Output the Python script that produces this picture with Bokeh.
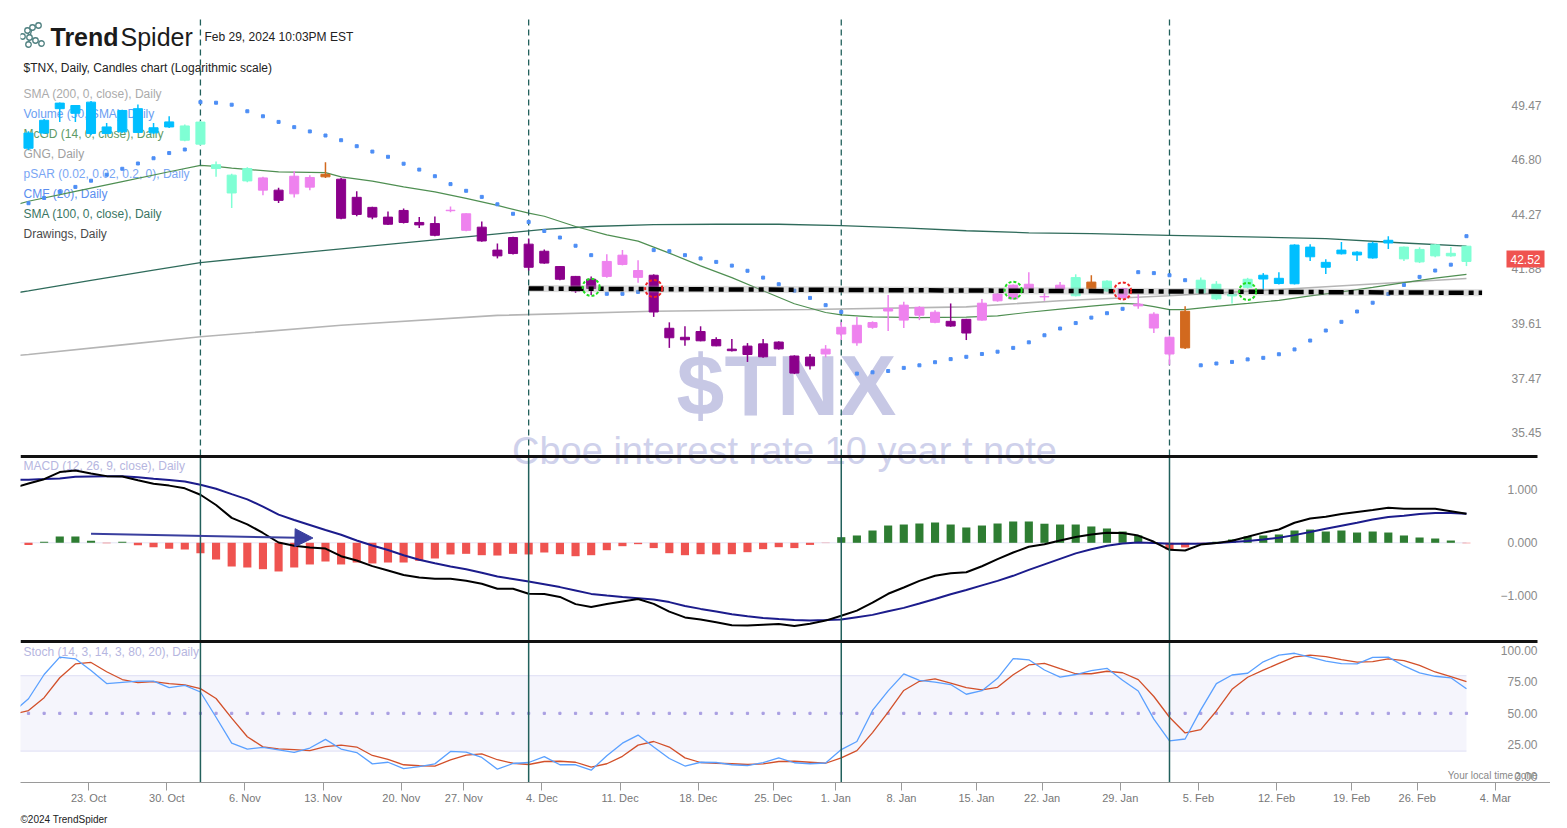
import math
import numpy as np
from bokeh.plotting import figure
from bokeh.models import Range1d, LinearScale, FixedTicker, Label, Arrow, NormalHead
from bokeh.embed import file_html
from bokeh.resources import INLINE
from bokeh.core.properties import value

FONT = "Liberation Sans"

# ---------------------------------------------------------------- data
dates = [
    "2023-10-16", "2023-10-17", "2023-10-18", "2023-10-19", "2023-10-20", "2023-10-23", "2023-10-24",
    "2023-10-25", "2023-10-26", "2023-10-27", "2023-10-30", "2023-10-31",
    "2023-11-01", "2023-11-02", "2023-11-03", "2023-11-06", "2023-11-07", "2023-11-08", "2023-11-09",
    "2023-11-10", "2023-11-13", "2023-11-14", "2023-11-15", "2023-11-16", "2023-11-17", "2023-11-20",
    "2023-11-21", "2023-11-22", "2023-11-24", "2023-11-27", "2023-11-28", "2023-11-29", "2023-11-30",
    "2023-12-01", "2023-12-04", "2023-12-05", "2023-12-06", "2023-12-07", "2023-12-08", "2023-12-11",
    "2023-12-12", "2023-12-13", "2023-12-14", "2023-12-15", "2023-12-18", "2023-12-19", "2023-12-20",
    "2023-12-21", "2023-12-22", "2023-12-26", "2023-12-27", "2023-12-28", "2023-12-29",
    "2024-01-02", "2024-01-03", "2024-01-04", "2024-01-05", "2024-01-08", "2024-01-09", "2024-01-10",
    "2024-01-11", "2024-01-12", "2024-01-16", "2024-01-17", "2024-01-18", "2024-01-19", "2024-01-22",
    "2024-01-23", "2024-01-24", "2024-01-25", "2024-01-26", "2024-01-29", "2024-01-30", "2024-01-31",
    "2024-02-01", "2024-02-02", "2024-02-05", "2024-02-06", "2024-02-07", "2024-02-08", "2024-02-09",
    "2024-02-12", "2024-02-13", "2024-02-14", "2024-02-15", "2024-02-16", "2024-02-20", "2024-02-21",
    "2024-02-22", "2024-02-23", "2024-02-26", "2024-02-27", "2024-02-28", "2024-02-29",
]

# candles: one per day from dates[1:]
opens = [47.36, 48.10, 49.31, 49.47, 49.64, 48.40, 48.16, 49.31, 48.36, 48.40,
         47.75, 48.64, 46.57, 46.08, 45.81, 45.95, 45.38, 45.21, 45.52, 46.00,
         45.89, 44.27, 44.59, 44.15, 44.45, 43.91, 43.86, 44.44, 44.30, 43.70,
         42.69, 42.54, 42.95, 42.13, 41.98, 41.56, 41.05, 41.56, 42.07, 41.81,
         41.61, 39.42, 39.06, 38.92, 38.97, 38.59, 38.38, 38.29, 38.87, 38.32,
         37.94, 38.40, 39.19, 38.84, 39.46, 40.12, 40.36, 39.95, 39.66, 39.70,
         39.78, 39.75, 40.54, 40.62, 41.04, 40.72, 41.01, 40.75, 41.32, 40.95,
         41.05, 40.40, 39.99, 39.06, 38.64, 40.87, 41.23, 40.74, 41.10, 41.45,
         41.26, 41.25, 42.82, 42.16, 42.53, 42.60, 42.35, 43.00, 42.82, 42.18,
         42.44, 42.55, 42.86]
highs = [48.19, 48.80, 49.62, 49.50, 49.70, 48.60, 49.25, 49.52, 48.60, 48.93,
         48.52, 48.70, 46.73, 46.15, 46.45, 46.00, 45.49, 46.28, 46.08, 46.69,
         45.95, 45.33, 44.62, 44.40, 44.54, 44.15, 44.18, 44.63, 44.32, 43.95,
         42.98, 43.28, 43.20, 42.72, 42.00, 41.58, 41.56, 42.51, 42.69, 42.25,
         41.65, 39.66, 39.50, 39.50, 39.06, 38.99, 38.83, 38.99, 38.90, 38.35,
         38.40, 38.75, 39.67, 39.88, 39.70, 40.78, 40.50, 40.32, 40.15, 40.43,
         39.80, 40.61, 40.85, 41.22, 41.74, 40.85, 41.32, 41.65, 41.61, 41.40,
         41.08, 40.81, 40.07, 39.10, 40.32, 41.51, 41.36, 40.98, 41.50, 41.70,
         41.74, 42.95, 42.95, 42.29, 43.04, 42.64, 43.05, 43.30, 42.85, 42.81,
         42.95, 42.83, 42.88]
lows = [47.26, 48.05, 48.65, 48.65, 48.00, 48.05, 48.12, 48.10, 48.05, 48.35,
        47.70, 47.50, 46.00, 44.56, 45.75, 45.15, 44.79, 45.04, 45.38, 45.95,
        44.05, 44.19, 44.05, 43.80, 43.86, 43.66, 43.30, 44.37, 43.52, 43.05,
        42.33, 42.50, 41.81, 42.10, 41.40, 40.87, 40.78, 41.50, 42.03, 41.29,
        39.88, 38.64, 38.72, 38.90, 38.70, 38.50, 38.09, 38.25, 38.57, 37.62,
        37.80, 38.27, 38.95, 38.72, 39.40, 39.31, 39.43, 39.75, 39.62, 39.48,
        38.95, 39.72, 40.50, 40.60, 41.00, 40.54, 40.98, 40.72, 41.00, 40.92,
        40.65, 40.21, 39.23, 37.98, 38.60, 40.85, 40.57, 40.43, 41.05, 41.01,
        41.22, 41.22, 42.22, 41.66, 42.50, 42.22, 42.32, 42.74, 42.22, 42.13,
        42.38, 42.40, 42.00]
closes = [48.10, 48.73, 49.59, 49.08, 48.08, 48.08, 49.22, 48.13, 48.11, 48.65,
          48.45, 47.56, 46.39, 45.25, 46.39, 45.38, 44.91, 46.03, 45.97, 46.12,
          44.10, 45.05, 44.15, 43.83, 43.91, 43.80, 43.34, 44.46, 43.56, 43.09,
          42.44, 43.24, 41.95, 42.64, 41.44, 40.95, 41.44, 42.20, 42.47, 41.52,
          40.08, 39.04, 38.96, 39.29, 38.72, 38.53, 38.71, 38.80, 38.60, 37.66,
          38.28, 38.59, 39.46, 39.54, 39.65, 40.22, 39.75, 40.27, 40.07, 39.51,
          39.23, 40.44, 40.82, 41.19, 41.23, 40.70, 41.19, 41.51, 41.04, 41.36,
          40.68, 40.33, 39.43, 38.40, 40.11, 41.40, 40.62, 40.82, 41.44, 41.61,
          41.48, 42.91, 42.40, 41.95, 42.69, 42.48, 42.99, 43.12, 42.31, 42.72,
          42.92, 42.44, 42.20]
# GNG state per candle: B strong go, A weak go, P weak no-go, V strong no-go, O neutral
gng_state = ("BBBBBBBBBB" "AAAAA" "P" "V" "PP" "O" "VVVVVVV" "PP" "VVVVVVVV" "PPP"
             "VVVVVVVVVVV" "PPPPPPPP" "VV" "PPPPPP" "A" "O" "A" "PPPP" "O" "AAAA"
             "BBBBBBBBB" "AAAAA")
last_price = 42.52

psar = [44.78, 45.02, 45.29, 45.53, 45.82, 46.10, 46.38, 46.63, 46.88, 47.13,
        47.30, 49.64, 49.61, 49.51, 49.18, 48.93, 48.65, 48.39, 48.18, 47.98,
        47.75, 47.46, 47.20, 46.95, 46.62, 46.34, 46.03, 45.66, 45.35, 45.07,
        44.73, 44.30, 43.93, 43.53, 43.24, 42.88, 42.47, 40.83, 40.83, 40.91,
        42.69, 42.64, 42.47, 42.33, 42.18, 42.02, 41.80, 41.51, 41.23, 40.96,
        40.66, 40.36, 40.08, 37.64, 37.69, 37.74, 37.86, 37.96, 38.08, 38.20,
        38.29, 38.40, 38.49, 38.64, 38.86, 39.14, 39.41, 39.63, 39.85, 40.03,
        40.21, 41.74, 41.70, 41.61, 41.40, 37.96, 38.03, 38.09, 38.19, 38.25,
        38.39, 38.58, 38.93, 39.33, 39.68, 40.10, 40.46, 40.82, 41.20, 41.54,
        41.81, 42.06, 43.30]

sma200_dates = ["2023-10-16", "2023-10-17", "2023-10-25", "2023-11-01", "2023-11-14", "2023-11-29",
                "2023-12-13", "2023-12-28", "2024-01-12", "2024-01-23", "2024-02-01", "2024-02-12",
                "2024-02-21", "2024-02-29"]
sma200 = [38.33, 38.38, 38.76, 39.08, 39.54, 39.94, 40.11, 40.18, 40.29, 40.54, 40.75, 41.01, 41.24, 41.47]

sma100_dates = ["2023-10-16", "2023-10-17", "2023-10-23", "2023-10-27", "2023-11-01", "2023-11-07",
                "2023-11-14", "2023-11-21", "2023-11-29", "2023-12-04", "2023-12-07", "2023-12-13",
                "2023-12-19", "2023-12-26", "2024-01-02", "2024-01-08", "2024-01-12", "2024-01-19",
                "2024-01-25", "2024-02-01", "2024-02-08", "2024-02-15", "2024-02-23", "2024-02-29"]
sma100 = [40.85, 40.95, 41.39, 41.83, 42.15, 42.42, 42.74, 43.07, 43.40, 43.60, 43.73, 43.81,
          43.83, 43.83, 43.77, 43.67, 43.54, 43.45, 43.41, 43.34, 43.27, 43.19, 43.00, 42.86]

mcgd_dates = ["2023-10-16", "2023-10-17", "2023-10-20", "2023-10-25", "2023-10-30", "2023-11-01",
              "2023-11-02", "2023-11-03", "2023-11-08", "2023-11-13", "2023-11-14", "2023-11-16",
              "2023-11-20", "2023-11-22", "2023-11-27", "2023-11-29", "2023-12-01", "2023-12-04",
              "2023-12-06", "2023-12-08", "2023-12-12", "2023-12-13", "2023-12-14", "2023-12-18",
              "2023-12-20", "2023-12-22", "2023-12-27", "2023-12-29", "2024-01-02", "2024-01-04",
              "2024-01-09", "2024-01-12", "2024-01-17", "2024-01-19", "2024-01-23", "2024-01-25",
              "2024-01-29", "2024-01-30", "2024-01-31", "2024-02-01", "2024-02-02", "2024-02-06",
              "2024-02-08", "2024-02-12", "2024-02-14", "2024-02-16", "2024-02-21", "2024-02-23",
              "2024-02-27", "2024-02-29"]
mcgd = [44.68, 44.87, 45.32, 45.78, 46.24, 46.54, 46.49, 46.41, 46.23, 46.20,
        46.00, 45.80, 45.53, 45.30, 45.00, 44.68, 44.33, 44.19, 43.73, 43.36,
        43.08, 42.82, 42.56, 42.01, 41.51, 40.96, 40.42, 40.06, 39.96, 39.88,
        39.85, 39.87, 39.92, 40.07, 40.20, 40.32, 40.43, 40.40, 40.30, 40.18,
        40.18, 40.31, 40.43, 40.56, 40.74, 40.91, 41.10, 41.30, 41.49, 41.65]

# MACD (12, 26, 9): one value per entry of dates
macd = [1.034, 1.119, 1.200, 1.334, 1.364, 1.308, 1.258, 1.251, 1.181, 1.115, 1.079,
        1.028, 0.906, 0.713, 0.470, 0.349, 0.185, 0.006, -0.057, -0.089, -0.109,
        -0.253, -0.334, -0.440, -0.523, -0.606, -0.655, -0.679, -0.679, -0.717, -0.772,
        -0.868, -0.868, -0.962, -0.966, -1.021, -1.157, -1.211, -1.153, -1.106, -1.060,
        -1.153, -1.298, -1.408, -1.449, -1.500, -1.555, -1.560, -1.545, -1.530, -1.570,
        -1.528, -1.468, -1.377, -1.279, -1.130, -0.962, -0.843, -0.719, -0.623, -0.574,
        -0.555, -0.442, -0.309, -0.183, -0.075, -0.028, 0.043, 0.109, 0.157, 0.189,
        0.183, 0.136, 0.019, -0.132, -0.145, -0.034, -0.006, 0.040, 0.113, 0.192,
        0.251, 0.379, 0.458, 0.491, 0.543, 0.583, 0.621, 0.662, 0.642, 0.642,
        0.642, 0.596, 0.547]
signal = [1.185, 1.191, 1.202, 1.215, 1.245, 1.251, 1.257, 1.257, 1.236, 1.208, 1.183,
          1.155, 1.094, 1.021, 0.919, 0.819, 0.683, 0.532, 0.430, 0.336, 0.242,
          0.153, 0.043, -0.051, -0.136, -0.234, -0.321, -0.387, -0.447, -0.498, -0.566,
          -0.636, -0.683, -0.730, -0.783, -0.836, -0.900, -0.964, -0.994, -1.023, -1.045,
          -1.068, -1.119, -1.191, -1.247, -1.296, -1.347, -1.387, -1.417, -1.440, -1.455,
          -1.466, -1.458, -1.447, -1.404, -1.360, -1.291, -1.228, -1.145, -1.060, -0.970,
          -0.889, -0.804, -0.719, -0.623, -0.511, -0.408, -0.304, -0.200, -0.123, -0.055,
          -0.015, 0.006, -0.006, -0.019, -0.019, -0.019, -0.004, 0.013, 0.034, 0.062,
          0.094, 0.145, 0.202, 0.264, 0.321, 0.377, 0.438, 0.485, 0.511, 0.542,
          0.564, 0.562, 0.547]
# histogram: one per candle (dates[1:])
hist = [-0.04, 0.02, 0.12, 0.12, 0.04, -0.01, 0.02, -0.045, -0.083, -0.11,
        -0.126, -0.196, -0.315, -0.447, -0.466, -0.498, -0.541, -0.466, -0.409, -0.353,
        -0.409, -0.372, -0.39, -0.372, -0.372, -0.34, -0.296, -0.22, -0.208, -0.234,
        -0.24, -0.208, -0.22, -0.183, -0.215, -0.253, -0.234, -0.14, -0.064, -0.026,
        -0.1, -0.196, -0.234, -0.215, -0.22, -0.215, -0.177, -0.12, -0.083, -0.1,
        -0.04, -0.005, 0.106, 0.138, 0.232, 0.326, 0.345, 0.364, 0.383, 0.345,
        0.289, 0.326, 0.364, 0.402, 0.402, 0.36, 0.345, 0.345, 0.308, 0.27,
        0.213, 0.138, 0.01, -0.126, -0.088, -0.01, 0.02, 0.063, 0.12, 0.138,
        0.157, 0.232, 0.25, 0.213, 0.232, 0.194, 0.213, 0.194, 0.138, 0.1,
        0.081, 0.043, -0.008]

# Stochastic (14, 3, 14, 3, 80, 20): one value per entry of dates
stoch_k = [50.7, 61.6, 80.9, 94.7, 93.4, 84.1, 73.7, 74.7, 75.6, 75.6, 70.4,
           72.2, 67.0, 46.9, 26.3, 21.6, 23.0, 21.0, 18.9, 22.4, 29.3,
           21.6, 18.8, 9.8, 11.1, 6.0, 7.7, 9.8, 19.7, 19.2, 14.9,
           5.6, 10.1, 10.9, 15.6, 9.1, 9.1, 4.8, 16.3, 26.3, 32.7,
           23.3, 14.1, 8.1, 11.1, 10.9, 9.1, 8.5, 10.8, 14.6, 10.7,
           9.9, 10.5, 21.2, 27.6, 52.3, 67.9, 81.4, 76.3, 74.9, 72.9,
           65.2, 68.0, 77.9, 93.6, 92.6, 84.5, 78.8, 80.9, 84.0, 85.8,
           76.3, 67.8, 45.4, 28.1, 29.6, 52.8, 73.6, 80.5, 81.9, 91.0,
           96.3, 97.8, 94.7, 91.6, 89.5, 89.4, 94.6, 94.7, 87.7, 82.2,
           79.5, 78.3, 69.5]
stoch_d = [49.1, 52.2, 62.5, 78.3, 89.3, 90.5, 83.1, 76.9, 74.5, 75.3, 73.6,
           72.7, 69.7, 61.8, 46.2, 31.4, 23.3, 21.8, 21.1, 20.4, 23.6,
           24.7, 23.2, 16.5, 13.3, 9.1, 8.3, 8.0, 13.0, 16.8, 17.8,
           13.1, 10.3, 9.3, 11.7, 11.9, 11.1, 7.2, 9.9, 15.8, 24.7,
           27.6, 23.2, 14.6, 10.9, 10.3, 9.9, 9.3, 9.8, 11.7, 11.9,
           11.1, 10.3, 14.6, 20.4, 34.7, 51.0, 68.2, 75.5, 77.4, 74.1,
           70.5, 68.7, 70.7, 80.7, 88.5, 89.8, 85.5, 81.5, 81.5, 83.5,
           82.3, 76.8, 63.4, 46.9, 34.4, 37.1, 51.9, 69.1, 78.7, 84.4,
           89.7, 95.0, 96.4, 95.2, 92.7, 90.8, 91.2, 93.3, 92.0, 88.1,
           82.9, 79.3, 75.3]
stoch_upper, stoch_mid, stoch_lower = 80, 50, 20

# drawings
trend_dates = ["2023-12-01", "2024-03-01"]
trend_vals = [41.05, 40.87]
signal_dates = ["2023-12-07", "2023-12-13", "2024-01-18", "2024-01-29", "2024-02-08"]
signal_vals = [41.10, 41.05, 40.98, 40.95, 40.93]
signal_kind = ["buy", "sell", "buy", "sell", "buy"]
arrow_dates = ["2023-10-23", "2023-11-10"]
arrow_vals = [0.17, 0.09]
month_starts = ["2023-11-01", "2023-12-01", "2024-01-02", "2024-02-01"]

tick_dates = ["2023-10-23", "2023-10-30", "2023-11-06", "2023-11-13", "2023-11-20", "2023-11-27",
              "2023-12-04", "2023-12-11", "2023-12-18", "2023-12-25", "2024-01-01", "2024-01-08",
              "2024-01-15", "2024-01-22", "2024-01-29", "2024-02-05", "2024-02-12", "2024-02-19",
              "2024-02-26", "2024-03-04"]
tick_labels = ["23. Oct", "30. Oct", "6. Nov", "13. Nov", "20. Nov", "27. Nov", "4. Dec", "11. Dec",
               "18. Dec", "25. Dec", "1. Jan", "8. Jan", "15. Jan", "22. Jan", "29. Jan", "5. Feb",
               "12. Feb", "19. Feb", "26. Feb", "4. Mar"]
price_ticks = [49.47, 46.80, 44.27, 41.88, 39.61, 37.47, 35.45]
price_tick_labels = ["49.47", "46.80", "44.27", "41.88", "39.61", "37.47", "35.45"]
macd_ticks = [1.0, 0.0, -1.0]
macd_tick_labels = ["1.000", "0.000", "\u22121.000"]
stoch_ticks = [100, 75, 50, 25, 0]
stoch_tick_labels = ["100.00", "75.00", "50.00", "25.00", "0.00"]

# ---------------------------------------------------------------- layout helpers
X0_PX, DX_PX = 28.0, 15.63          # page x of first candle, px per trading day


def ix(px):
    return (px - X0_PX) / DX_PX


def price_at(py):
    return 49.47 * math.exp(-(py - 105.0) / 981.0)


def macd_at(py):
    return (542.3 - py) / 53.0


def stoch_at(py):
    return (775.7 - py) / 1.257


pos_of = {d: k - 1 for k, d in enumerate(dates)}


def xpos(d):
    if d in pos_of:
        return pos_of[d]
    if d > dates[-1]:
        return pos_of[dates[-1]] + int(np.busday_count(dates[-1], d))
    prev = max(s for s in dates if s < d)
    return pos_of[prev] + 0.8


GNG_COLORS = {"B": "#00bfff", "A": "#7fffd4", "P": "#ee82ee", "V": "#8b008b", "O": "#d2691e"}

# ---------------------------------------------------------------- figure
p = figure(frame_width=1530, frame_height=764,
           x_range=Range1d(ix(20), ix(1550)),
           y_range=Range1d(price_at(782), price_at(18)),
           y_axis_type="log", y_axis_location=None,
           output_backend="svg", toolbar_location=None,
           min_border_left=20, min_border_right=0, min_border_top=18, min_border_bottom=0,
           background_fill_color="white", border_fill_color="white", outline_line_color=None,
           title="\u00a92024 TrendSpider", title_location="below")
p.extra_y_ranges = {"macd": Range1d(macd_at(782), macd_at(18)),
                    "stoch": Range1d(stoch_at(782), stoch_at(18))}
p.extra_y_scales = {"macd": LinearScale(), "stoch": LinearScale()}
p.xgrid.visible = False
p.ygrid.visible = False

p.title.align = "left"
p.title.text_font = FONT
p.title.text_font_size = "10px"
p.title.text_font_style = "normal"
p.title.text_color = "#222222"

xa = p.xaxis[0]
tick_x = [round(xpos(d) - 0.15, 2) for d in tick_dates]
xa.ticker = FixedTicker(ticks=tick_x)
xa.major_label_overrides = {t: lab for t, lab in zip(tick_x, tick_labels)}
xa.axis_line_color = "#9a9a9a"
xa.major_tick_line_color = "#9a9a9a"
xa.major_tick_out = 8
xa.major_tick_in = 0
xa.minor_tick_line_color = None
xa.major_label_text_color = "#777777"
xa.major_label_text_font = FONT
xa.major_label_text_font_size = "11px"
xa.major_label_standoff = 1


def label(px, py, text, size, color, rng="default", align="left", style="normal",
          level="annotation", baseline="middle"):
    conv = {"default": price_at, "macd": macd_at, "stoch": stoch_at}[rng]
    lab = Label(x=ix(px), y=conv(py), text=text, text_font=FONT, text_font_size=f"{size}px",
                text_color=color, text_align=align, text_baseline=baseline,
                text_font_style=style, y_range_name=rng, level=level)
    p.add_layout(lab)
    return lab


# watermark (behind everything)
label(786, 384, "$TNX", 86, "#c7c8e5", align="center", style="bold", level="underlay")
label(784, 450, "Cboe interest rate 10 year t note", 38, "#cfd1eb", align="center", level="underlay")

# legend / header texts
legend_rows = [("SMA (200, 0, close), Daily", "#ababab"),
               ("Volume (50, SMA), Daily", "#6a9ef2"),
               ("McGD (14, 0, close), Daily", "#5e9a66"),
               ("GNG, Daily", "#a0a0a0"),
               ("pSAR (0.02, 0.02, 0.2, 0), Daily", "#79a6f4"),
               ("CMF (20), Daily", "#5b8ef0"),
               ("SMA (100, 0, close), Daily", "#3a7563"),
               ("Drawings, Daily", "#4a4a4a")]
for k, (txt, col) in enumerate(legend_rows):
    label(23, 93 + 20 * k, txt, 12, col, level="underlay")
label(23, 67, "$TNX, Daily, Candles chart (Logarithmic scale)", 12, "#222222", level="underlay")

# logo mark (small network of rings)
logo_px = [(22, 36), (27, 30), (32, 27), (38, 25), (29, 37), (35, 40), (41, 43), (28, 44)]
logo_links = [(1, 4), (4, 7), (4, 5), (2, 4)]
p.segment(x0=[ix(logo_px[a][0]) for a, b in logo_links], y0=[price_at(logo_px[a][1]) for a, b in logo_links],
          x1=[ix(logo_px[b][0]) for a, b in logo_links], y1=[price_at(logo_px[b][1]) for a, b in logo_links],
          line_color="#4f8080", line_width=1.2)
p.scatter([ix(a) for a, b in logo_px], [price_at(b) for a, b in logo_px], marker="circle", size=5.5,
          fill_color="white", line_color="#4f8080", line_width=1.3)
label(50, 36, "Trend", 25, "#1b1b1b", style="bold")
label(120, 36, "Spider", 25, "#1b1b1b")
label(204, 36, "Feb 29, 2024 10:03PM EST", 12, "#222222")
label(23, 465, "MACD (12, 26, 9, close), Daily", 12, "#b6b6e0", rng="macd", level="underlay")
label(23, 651, "Stoch (14, 3, 14, 3, 80, 20), Daily", 12, "#b6b6e0", rng="stoch", level="underlay")

# ---------------------------------------------------------------- price panel
xs_all = [pos_of[d] for d in dates]
cx = xs_all[1:]

p.line([xpos(d) for d in sma200_dates], sma200, line_color="#b5b5b5", line_width=1.6)
p.line([xpos(d) for d in sma100_dates], sma100, line_color="#2f6b5b", line_width=1.3)
p.line([xpos(d) for d in mcgd_dates], mcgd, line_color="#4f8f52", line_width=1.2)

mx = [xpos(d) for d in month_starts]
p.segment(x0=mx, y0=[price_at(455)] * len(mx), x1=mx, y1=[price_at(18)] * len(mx),
          line_color="#22605c", line_width=1.3, line_dash="6 4")

cols = [GNG_COLORS[s] for s in gng_state]
body_top = [max(o, c) for o, c in zip(opens, closes)]
body_bot = [min(o, c) for o, c in zip(opens, closes)]
p.segment(x0=cx, y0=lows, x1=cx, y1=highs, line_color=cols, line_width=1.5)
p.vbar(x=cx, width=0.58, top=body_top, bottom=body_bot, fill_color=cols, line_color=cols, line_width=1)

p.scatter(cx, psar, marker="square", size=3, color="#4d8ef5")

tx = [xpos(d) for d in trend_dates]
p.line(tx, trend_vals, line_color="#9a9a9a", line_width=7, line_alpha=0.35)
p.line(tx, trend_vals, line_color="black", line_width=4.5, line_dash="15 5 5 5 5 5")
p.scatter([xpos(d) for d in signal_dates], signal_vals, marker="circle", size=17,
          fill_color=None, line_width=2, line_dash="3 2",
          line_color=["#22dd22" if k == "buy" else "#ee2222" for k in signal_kind])

p.text(x=[ix(1541)] * len(price_ticks), y=price_ticks, text=price_tick_labels,
       text_align="right", text_baseline="middle", text_font=value(FONT),
       text_font_size="12px", text_color="#8a8a8a")
pl = Label(x=ix(1525), y=last_price, y_offset=-5, text=f"{last_price:.2f}", text_font=FONT,
           text_font_size="12px", text_color="white", text_align="center", text_baseline="middle",
           background_fill_color="#ef5350", padding=4)
p.add_layout(pl)

# ---------------------------------------------------------------- MACD panel
p.segment(x0=[xs_all[0] - 0.5], y0=[0], x1=[xs_all[-1]], y1=[0], y_range_name="macd",
          line_color="#e4e4f4", line_width=1)
p.vbar(x=cx, width=0.52, top=hist, bottom=0, y_range_name="macd",
       fill_color=["#2e7d32" if h > 0 else "#ef5350" for h in hist], line_color=None)
p.line(xs_all, signal, y_range_name="macd", line_color="#1c1c8c", line_width=2)
p.line(xs_all, macd, y_range_name="macd", line_color="black", line_width=2)
arr = Arrow(end=NormalHead(size=18, fill_color="#3a3f9f", line_color="#3a3f9f"),
            x_start=xpos(arrow_dates[0]), y_start=arrow_vals[0],
            x_end=xpos(arrow_dates[1]) + 0.2, y_end=arrow_vals[1],
            line_color="#3a3f9f", line_width=2, y_range_name="macd")
p.add_layout(arr)
p.text(x=[ix(1537)] * len(macd_ticks), y=macd_ticks, text=macd_tick_labels, y_range_name="macd",
       text_align="right", text_baseline="middle", text_font=value(FONT),
       text_font_size="12px", text_color="#8a8a8a")

# ---------------------------------------------------------------- Stoch panel
band_l, band_r = xs_all[0] - 0.5, xs_all[-1]
p.quad(left=[band_l], right=[band_r], bottom=[stoch_lower], top=[stoch_upper], y_range_name="stoch",
       fill_color="#f5f5fc", line_color=None)
p.segment(x0=[band_l, band_l], y0=[stoch_upper, stoch_lower], x1=[band_r, band_r],
          y1=[stoch_upper, stoch_lower], y_range_name="stoch", line_color="#e4e4f6", line_width=1.2)
p.scatter(cx, [stoch_mid] * len(cx), marker="square", size=2.2, color="#a99fe2", y_range_name="stoch")
p.line(xs_all, stoch_d, y_range_name="stoch", line_color="#d2502a", line_width=1.3)
p.line(xs_all, stoch_k, y_range_name="stoch", line_color="#5aa0ff", line_width=1.3)
p.text(x=[ix(1537)] * len(stoch_ticks), y=stoch_ticks, text=stoch_tick_labels, y_range_name="stoch",
       text_align="right", text_baseline="middle", text_font=value(FONT),
       text_font_size="12px", text_color="#8a8a8a")
label(1537, 775, "Your local time zone", 10, "#888888", rng="stoch", align="right")

# lower-panel month lines and panel separators
p.segment(x0=mx, y0=[macd_at(455)] * len(mx), x1=mx, y1=[macd_at(782)] * len(mx),
          y_range_name="macd", line_color="#22605c", line_width=1.5)
p.segment(x0=[ix(20)] * 2, y0=[macd_at(456), macd_at(641)], x1=[ix(1537)] * 2,
          y1=[macd_at(456), macd_at(641)], y_range_name="macd", line_color="#111111", line_width=3)

open("out.html", "w").write(file_html(p, INLINE))
